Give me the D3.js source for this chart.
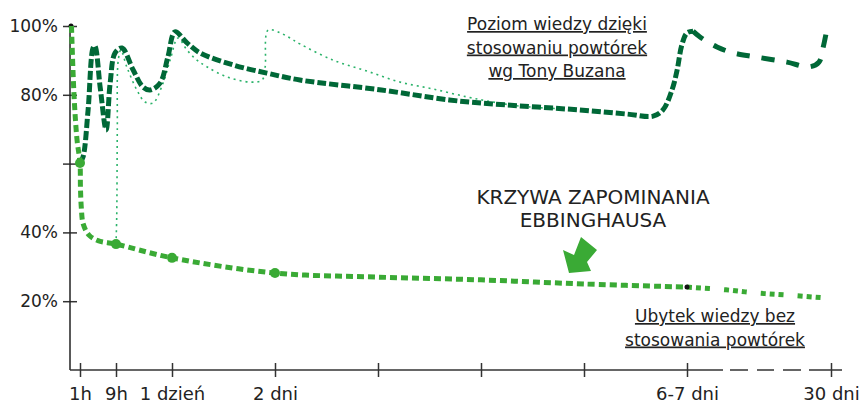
<!DOCTYPE html>
<html>
<head>
    <meta charset="utf-8">
    <title>Krzywa zapominania</title>
    <style>
        body { margin: 0; background: #fff; font-family: "DejaVu Sans", sans-serif; }
        .ax line, .ax path { stroke: #333; stroke-width: 1.5px; }
        .ax text { fill: #222; font-size: 17px; font-family: "DejaVu Sans", sans-serif; }
        .note { fill: #222; font-size: 17px; text-decoration: underline; }
        .title { fill: #222; font-size: 20px; }
    </style>
    <script src="https://d3js.org/d3.v7.min.js"></script>
</head>
<body>
<svg id="chart"></svg>
<script>
    //time in hours, retention in %
    var tickHours = [1, 9, 24, 48, 72, 96, 120, 144, 720],
        tickLabels = ["1h", "9h", "1 dzień", "2 dni", "", "", "", "6-7 dni", "30 dni"],
        yTicks = [20, 40, 60, 80, 100],
        yLabels = ["20%", "40%", "", "80%", "100%"];

    //Ebbinghaus forgetting curve
    var ebbHours = [0.15, 0.4, 0.7, 1, 1.1, 1.3, 1.7, 3, 5, 9, 24, 48, 72, 96, 120, 144],
        ebbVals  = [100, 80, 67, 60.2, 53, 47, 42.5, 39.2, 37.6, 36.6, 32.6, 28.2, 27, 26.2, 25, 24.1],
        ebbTailHours = [144, 300, 420, 544, 720],
        ebbTailVals  = [24.1, 23.3, 22.4, 21.8, 20.8],
        dotHours = [1, 9, 24, 48],
        dotVals  = [60.2, 36.6, 32.6, 28.2];

    //knowledge with repetitions (Buzan)
    var repHours = [1, 1.67, 2.8, 3.9, 4.3, 5.5, 6.8, 7.7, 8.8, 10.6, 13.6, 16.2, 18.1, 20.8, 22.9, 24.7, 27.5, 30.5, 38.2, 46.1, 53.8, 72.8, 88.6, 99.2, 118.9, 130, 136.1, 138.4, 140.5, 141.7, 142.8, 144, 168],
        repVals  = [60.2, 61.9, 75.6, 93.6, 94.2, 82, 69.8, 83.4, 92.2, 93.6, 87.2, 82.3, 81.4, 83.4, 91, 98.3, 95.1, 92.2, 88.7, 86.3, 84.3, 81.4, 78.5, 77.3, 75.6, 74.4, 73.8, 75.6, 81.4, 87.2, 94.5, 98, 98.5],
        repTailHours = [168, 196, 264, 328, 420, 544, 632, 672, 688, 700],
        repTailVals  = [98.5, 96.8, 93.9, 92.2, 91, 89.5, 88.1, 89.5, 93.6, 97.7];

    //first repetition variant (thin dotted)
    var thinHours = [9, 9.2, 9.35, 9.6, 10.3, 11.9, 14.6, 16.8, 18.9, 21.6, 23.5, 25.4, 27.5, 29.8, 32.2, 36.8, 42.2, 45, 45.7, 46.4, 49.2, 51.5, 53.8, 61.5, 69.4, 77.1, 84.8, 92.7, 98.8, 105.1, 115],
        thinVals  = [36.6, 45, 70, 90, 93, 88.1, 81.4, 77.9, 77.6, 83.4, 90.1, 96.5, 93, 90.1, 88.1, 85.2, 83.7, 84.3, 88, 98.8, 98, 96.5, 94.8, 90.1, 86.9, 83.7, 81.7, 79.4, 77.9, 76.7, 75.9];

    var width = 861, height = 400;
    var svg = d3.select("#chart").attr("width", width).attr("height", height);

    //piecewise time scale
    var x = d3.scaleLinear()
        .domain([0, 1, 9, 24, 48, 72, 96, 120, 144, 720])
        .range([70, 80, 116, 172, 275, 378, 481, 584, 687, 831]);
    var y = d3.scaleLinear().domain([0, 100]).range([370, 26]);

    function pts(h, v) { return h.map(function(d, i) { return [x(d), y(v[i])]; }); }
    var line = d3.line().curve(d3.curveCatmullRom.alpha(0.5));

    //y axis
    var ya = svg.append("g").attr("class", "ax").attr("transform", "translate(70,0)")
        .call(d3.axisLeft(y).tickValues(yTicks).tickFormat(function(d, i) { return yLabels[i]; }).tickSize(7).tickPadding(5));
    ya.select(".domain").remove();
    ya.selectAll(".tick line").attr("x1", -7).attr("x2", 7);
    ya.selectAll(".tick text").attr("x", -12);
    svg.append("line").attr("x1", 70).attr("x2", 70).attr("y1", y(100)).attr("y2", y(0))
        .attr("stroke", "#222").attr("stroke-width", 1.5);
    svg.append("circle").attr("cx", 71).attr("cy", y(100)).attr("r", 2.5).attr("fill", "#111");

    //x axis
    var xa = svg.append("g").attr("class", "ax").attr("transform", "translate(0," + y(0) + ")")
        .call(d3.axisBottom(x).tickValues(tickHours).tickFormat(function(d, i) { return tickLabels[i]; }).tickSize(7).tickPadding(10));
    xa.select(".domain").remove();
    xa.selectAll(".tick line").attr("y1", -7).attr("y2", 7);
    xa.selectAll(".tick text").style("font-size", "18px");
    svg.append("line").attr("x1", 70).attr("x2", 723).attr("y1", y(0)).attr("y2", y(0))
        .attr("stroke", "#333").attr("stroke-width", 1.5);
    svg.append("line").attr("x1", 730).attr("x2", 842).attr("y1", y(0)).attr("y2", y(0))
        .attr("stroke", "#333").attr("stroke-width", 1.5).attr("stroke-dasharray", "18,9,17,9,18,8,40");

    //curves
    svg.append("path").attr("d", line(pts(thinHours, thinVals)))
        .attr("fill", "none").attr("stroke", "#2bb36a").attr("stroke-width", 1.6).attr("stroke-dasharray", "2,4");

    svg.append("path").attr("d", line(pts(repHours, repVals)))
        .attr("fill", "none").attr("stroke", "#006837").attr("stroke-width", 5).attr("stroke-dasharray", "9,3");
    svg.append("path").attr("d", line(pts(repTailHours, repTailVals)))
        .attr("fill", "none").attr("stroke", "#006837").attr("stroke-width", 5).attr("stroke-dasharray", "13,12");

    svg.append("path").attr("d", line(pts(ebbHours, ebbVals)))
        .attr("fill", "none").attr("stroke", "#3aaa35").attr("stroke-width", 5).attr("stroke-dasharray", "7,4");
    svg.append("path").attr("d", line(pts(ebbTailHours, ebbTailVals)))
        .attr("fill", "none").attr("stroke", "#3aaa35").attr("stroke-width", 5).attr("stroke-dasharray", "5,4,5,4,5,14");

    svg.selectAll(".dot").data(dotHours).enter().append("circle")
        .attr("class", "dot")
        .attr("cx", function(d) { return x(d); })
        .attr("cy", function(d, i) { return y(dotVals[i]); })
        .attr("r", 5).attr("fill", "#3aaa35");
    svg.append("circle").attr("cx", x(144)).attr("cy", y(24.1)).attr("r", 2.5).attr("fill", "#111");

    //arrow
    svg.append("path").attr("d", "M569,273 L563,250 L574,255 L581,237 L597,250 L587,262 L591,271 Z")
        .attr("fill", "#3aaa35");

    //texts
    var note1 = ["Poziom wiedzy dzięki", "stosowaniu powtórek", "wg Tony Buzana"];
    svg.append("g").selectAll("text").data(note1).enter().append("text")
        .attr("class", "note").attr("x", 557).attr("y", function(d, i) { return 30 + i * 23.5; })
        .attr("text-anchor", "middle").text(function(d) { return d; });

    var title = ["KRZYWA ZAPOMINANIA", "EBBINGHAUSA"];
    svg.append("g").selectAll("text").data(title).enter().append("text")
        .attr("class", "title").attr("x", 593).attr("y", function(d, i) { return 204 + i * 23; })
        .attr("text-anchor", "middle").text(function(d) { return d; });

    var note2 = ["Ubytek wiedzy bez", "stosowania powtórek"];
    svg.append("g").selectAll("text").data(note2).enter().append("text")
        .attr("class", "note").attr("x", 715).attr("y", function(d, i) { return 322 + i * 23.5; })
        .attr("text-anchor", "middle").text(function(d) { return d; });
</script>
</body>
</html>
